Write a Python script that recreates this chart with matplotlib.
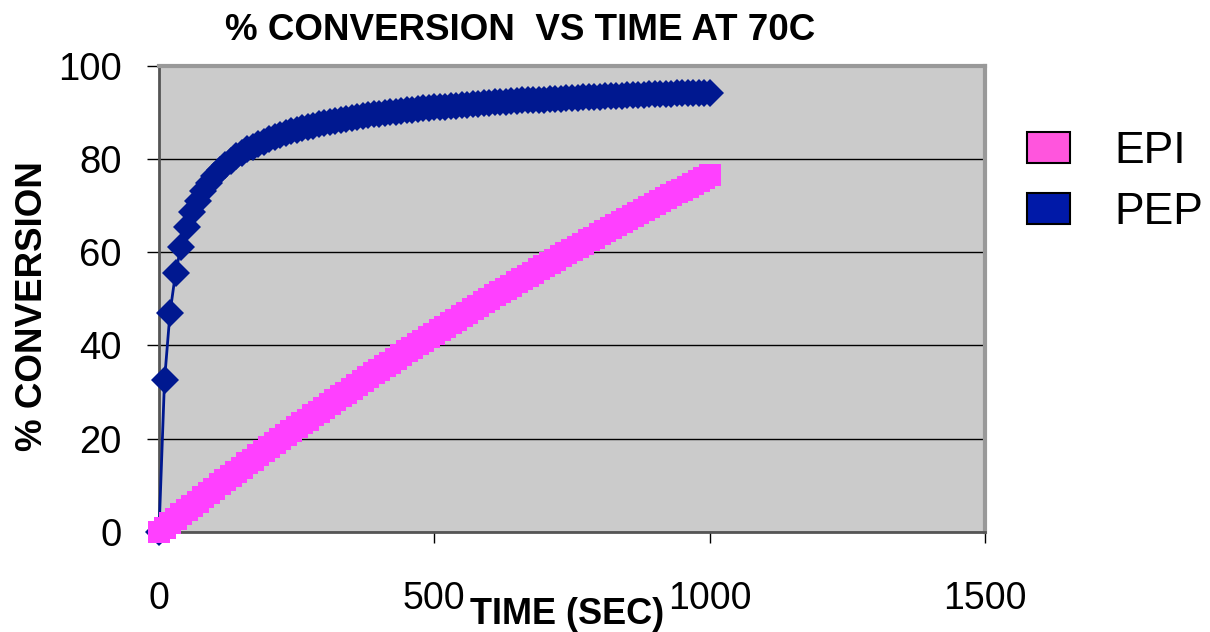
import matplotlib
matplotlib.use('Agg')
import matplotlib.pyplot as plt
from matplotlib.patches import Patch
import numpy as np

plt.rcParams.update({'font.family': ['Liberation Sans', 'DejaVu Sans'],
                     'xtick.major.width': 1, 'ytick.major.width': 1})

# sampling time (sec), one reading every 10 s
time_sec = np.arange(0, 1001, 10)

# % conversion
epi = [0.0, 0.9, 1.9, 2.8, 3.8, 4.7, 5.6, 6.5, 7.5, 8.4, 9.3,
       10.2, 11.1, 12.0, 12.9, 13.8, 14.7, 15.5, 16.4, 17.3, 18.2,
       19.0, 19.9, 20.8, 21.6, 22.5, 23.3, 24.1, 25.0, 25.8, 26.6,
       27.5, 28.3, 29.1, 29.9, 30.7, 31.6, 32.4, 33.2, 34.0, 34.8,
       35.6, 36.3, 37.1, 37.9, 38.7, 39.5, 40.2, 41.0, 41.8, 42.5,
       43.3, 44.0, 44.8, 45.5, 46.3, 47.0, 47.7, 48.5, 49.2, 49.9,
       50.7, 51.4, 52.1, 52.8, 53.5, 54.2, 54.9, 55.6, 56.3, 57.0,
       57.7, 58.4, 59.1, 59.8, 60.4, 61.1, 61.8, 62.5, 63.1, 63.8,
       64.5, 65.1, 65.8, 66.4, 67.1, 67.7, 68.4, 69.0, 69.6, 70.3,
       70.9, 71.5, 72.2, 72.8, 73.4, 74.0, 74.6, 75.2, 75.9, 76.5]

pep = [0.0, 32.5, 47.0, 55.5, 61.2, 65.3, 68.5, 71.0, 73.1, 74.8, 76.3,
       77.5, 78.6, 79.6, 80.5, 81.3, 82.0, 82.6, 83.2, 83.7, 84.2,
       84.7, 85.1, 85.5, 85.9, 86.2, 86.6, 86.9, 87.1, 87.4, 87.7,
       87.9, 88.2, 88.4, 88.6, 88.8, 89.0, 89.2, 89.4, 89.5, 89.7,
       89.8, 90.0, 90.1, 90.3, 90.4, 90.5, 90.7, 90.8, 90.9, 91.0,
       91.1, 91.2, 91.3, 91.4, 91.5, 91.6, 91.7, 91.8, 91.9, 92.0,
       92.1, 92.2, 92.2, 92.3, 92.4, 92.5, 92.5, 92.6, 92.7, 92.7,
       92.8, 92.9, 92.9, 93.0, 93.0, 93.1, 93.2, 93.2, 93.3, 93.3,
       93.4, 93.4, 93.5, 93.5, 93.6, 93.6, 93.7, 93.7, 93.8, 93.8,
       93.8, 93.9, 93.9, 94.0, 94.0, 94.0, 94.1, 94.1, 94.2, 94.2]

x_ticks = [0, 500, 1000, 1500]
y_ticks = [0, 20, 40, 60, 80, 100]

EPI_COL = '#FF40FF'
PEP_COL = '#001890'

W, H = 1210, 632
fig = plt.figure(figsize=(W / 100, H / 100), dpi=100)
ax = fig.add_axes([159 / W, 1 - 532 / H, (985 - 159) / W, (532 - 65.5) / H])
ax.set_facecolor('#CBCBCB')

ax.plot(time_sec, pep, '-D', color=PEP_COL, lw=2, ms=14, mew=0,
        clip_on=False, zorder=3)
ax.plot(time_sec, epi, 's', color=EPI_COL, ms=16, mew=0,
        clip_on=False, zorder=4)

ax.set_xlim(0, 1500)
ax.set_ylim(0, 100)
ax.set_xticks(x_ticks)
ax.set_yticks(y_ticks)
ax.tick_params(axis='x', direction='out', length=8, pad=27, labelsize=27)
ax.tick_params(axis='y', direction='out', length=9, pad=18, labelsize=27.5)

ax.yaxis.grid(True, color='black', lw=1)
ax.set_axisbelow(True)

for side in ['top', 'right']:
    ax.spines[side].set_color('#999999')
    ax.spines[side].set_linewidth(3)
for side in ['left', 'bottom']:
    ax.spines[side].set_color('#555555')
    ax.spines[side].set_linewidth(2)

fig.text(520 / W, 1 - 40 / H, '% CONVERSION  VS TIME AT 70C', ha='center',
         va='baseline', fontsize=26.5, fontweight='bold')
fig.text(567 / W, 1 - 624 / H, 'TIME (SEC)', ha='center', va='baseline',
         fontsize=26, fontweight='bold')
fig.text(33 / W, 1 - 306 / H, '% CONVERSION', ha='center', va='center',
         rotation=90, fontsize=26.5, fontweight='bold')

handles = [Patch(facecolor='#FF55DD', edgecolor='black', lw=1.5, label='EPI'),
           Patch(facecolor='#0019A8', edgecolor='black', lw=1.5, label='PEP')]
fig.legend(handles=handles, loc='upper left',
           bbox_to_anchor=(1027 / W, 1 - 131 / H), frameon=False,
           fontsize=32, handlelength=0.97, handleheight=0.68,
           handletextpad=1.0, labelspacing=0.45, borderpad=0,
           borderaxespad=0)

fig.savefig('out.png', dpi=100)
